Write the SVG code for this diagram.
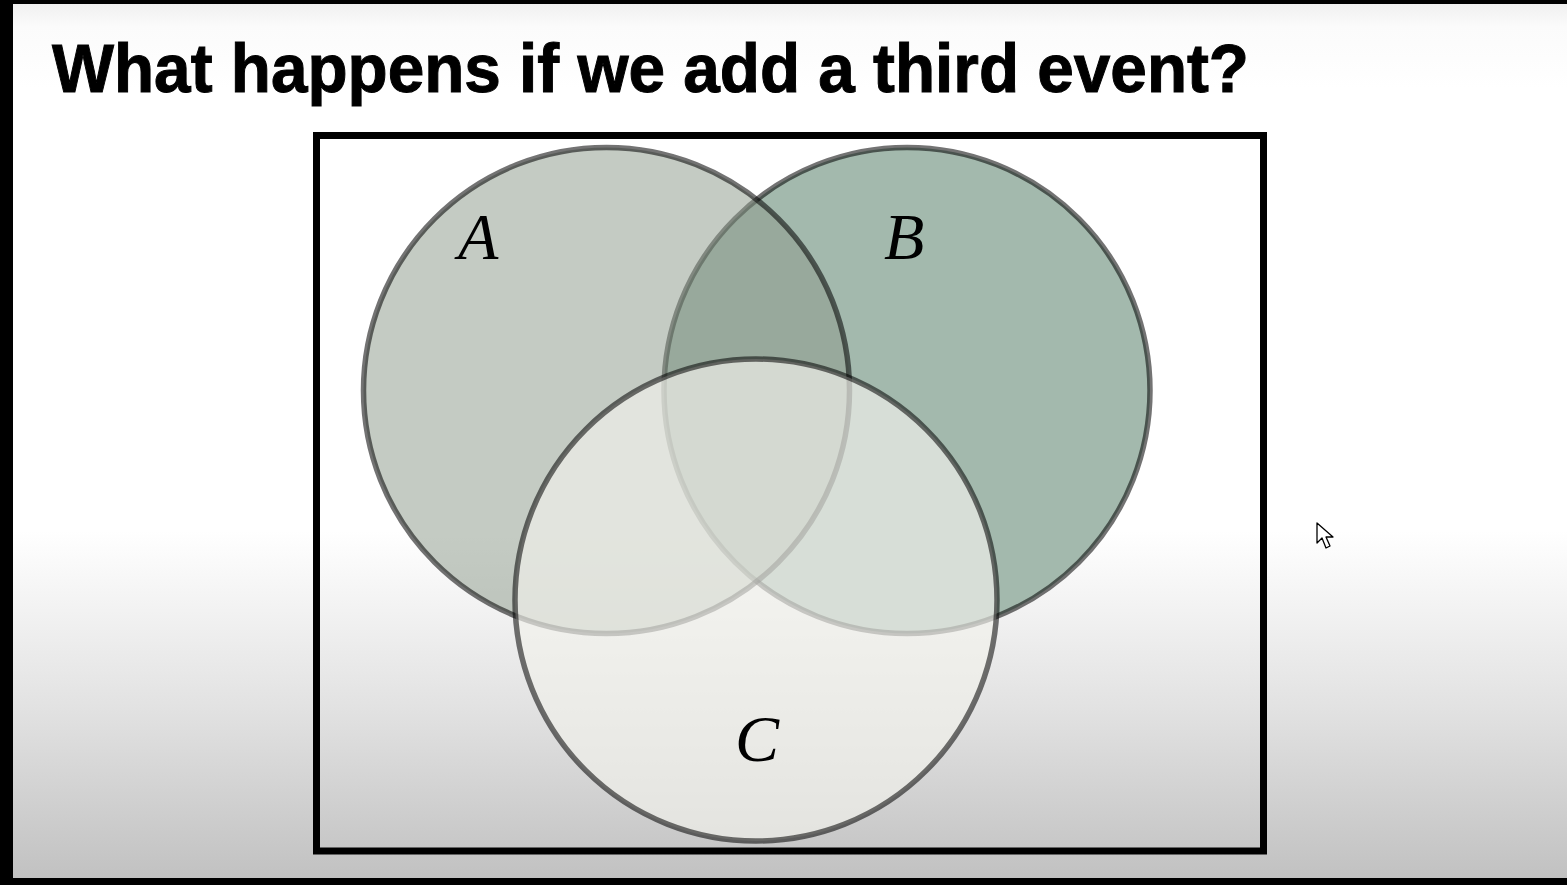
<svg xmlns="http://www.w3.org/2000/svg" width="1567" height="885" viewBox="0 0 1567 885">
  <defs>
    <linearGradient id="bg" x1="0" y1="0" x2="0" y2="885" gradientUnits="userSpaceOnUse">
      <stop offset="0" stop-color="#eeeeee"/>
      <stop offset="0.03" stop-color="#fbfbfb"/>
      <stop offset="0.1" stop-color="#ffffff"/>
      <stop offset="0.6" stop-color="#ffffff"/>
      <stop offset="0.8" stop-color="#e2e2e2"/>
      <stop offset="1" stop-color="#c0c0c0"/>
    </linearGradient>
  </defs>
  <style>
    .title { font-family: "Liberation Sans", Arial, sans-serif; font-weight: bold; font-size: 68px; fill: #000; stroke: #000; stroke-width: 1; }
    .lbl { font-family: "Liberation Serif", "Times New Roman", serif; font-style: italic; font-size: 66px; fill: #000; }
    .ring { stroke: #000; stroke-opacity: 0.55; stroke-width: 5.5; }
  </style>
  <rect x="0" y="0" width="1567" height="885" fill="#000"/>
  <rect x="13" y="4" width="1554" height="874" fill="url(#bg)"/>
  <text class="title" x="52" y="92" textLength="1197" lengthAdjust="spacingAndGlyphs">What happens if we add a third event?</text>
  <g id="sample-space">
    <rect x="316.5" y="135.5" width="947" height="715.5" fill="none" stroke="#000" stroke-width="7"/>
  </g>
  <g id="event-B">
    <circle cx="907" cy="390.5" r="243" fill="#a3b9ad" class="ring"/>
  </g>
  <g id="event-A">
    <circle cx="606.5" cy="390.5" r="243" fill="rgb(142,156,140)" fill-opacity="0.52" class="ring"/>
  </g>
  <g id="event-C">
    <circle cx="756" cy="600" r="241" fill="#f0f0ea" fill-opacity="0.68" class="ring"/>
  </g>
  <g id="labels">
    <text class="lbl" x="458" y="259">A</text>
    <text class="lbl" x="884" y="259">B</text>
    <text class="lbl" x="735" y="761">C</text>
  </g>
  <g id="connectors"></g>
  <g id="cursor">
    <polygon points="1317,523 1317,543 1322,538 1326,548 1330,546 1326,537 1333,537" fill="#fff" stroke="#000" stroke-width="1.3" stroke-linejoin="round"/>
  </g>
</svg>
